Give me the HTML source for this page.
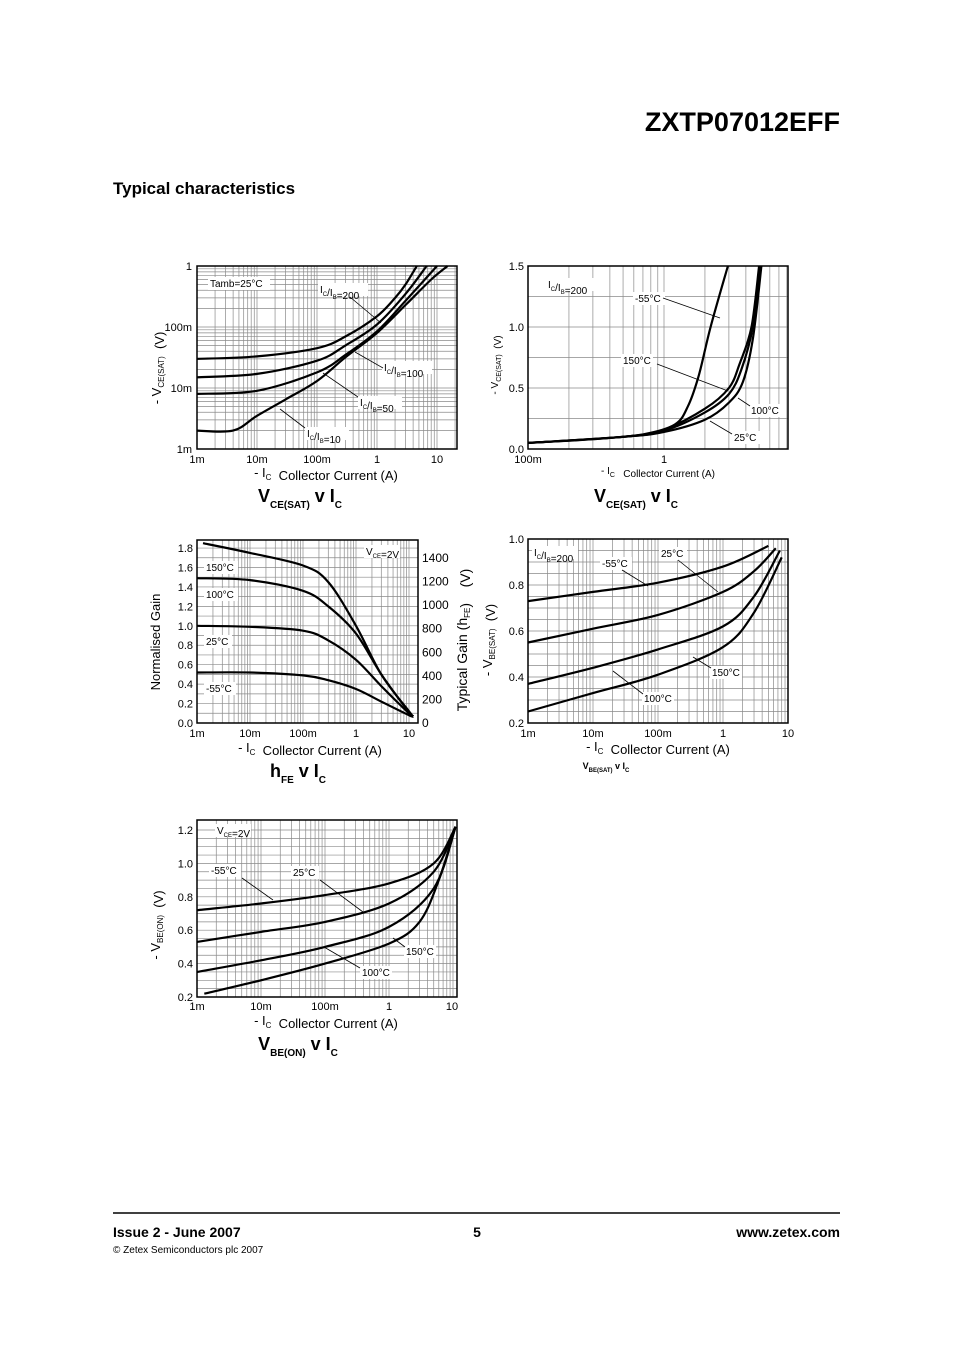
<!DOCTYPE html>
<html><head><meta charset="utf-8"><style>
html,body{margin:0;padding:0;background:#fff}
svg{display:block;font-family:"Liberation Sans",sans-serif}
</style></head><body>
<svg id="pg" width="954" height="1350" viewBox="0 0 954 1350" xmlns="http://www.w3.org/2000/svg">
<text x="840" y="131" text-anchor="end" font-size="27" font-weight="bold">ZXTP07012EFF</text>
<text x="113" y="194" font-size="17" font-weight="bold">Typical characteristics</text>
<line x1="113" y1="1213" x2="840" y2="1213" stroke="#000" stroke-width="1.5"/>
<text x="113" y="1237" font-size="14" font-weight="bold">Issue 2 - June 2007</text>
<text x="477" y="1237" font-size="14" font-weight="bold" text-anchor="middle">5</text>
<text x="840" y="1237" font-size="14" font-weight="bold" text-anchor="end">www.zetex.com</text>
<text x="113" y="1253" font-size="10">© Zetex Semiconductors plc 2007</text>
<g id="charts"></g>
</svg>
<script>
// ---- Chart 1: VCE(SAT) v IC at 25C (log-log) ----
const c1Ratios = ["10","50","100","200"];
const c1Ic = {
 "200":[0.001,0.01,0.1,0.3,1,2,3,4.6],
 "100":[0.001,0.01,0.1,0.3,1,3,6.7],
 "50":[0.001,0.01,0.1,0.3,1,3,10],
 "10":[0.001,0.004,0.01,0.03,0.1,0.3,1,3,8,15]};
const c1V = {
 "200":[0.030,0.033,0.045,0.07,0.15,0.3,0.5,1],
 "100":[0.015,0.017,0.028,0.05,0.11,0.35,1],
 "50":[0.008,0.009,0.018,0.035,0.085,0.27,1],
 "10":[0.002,0.002,0.0035,0.0065,0.013,0.032,0.08,0.23,0.6,1]};
const c1XTicks = ["1m","10m","100m","1","10"];
const c1YTicks = ["1m","10m","100m","1"];
// ---- Chart 2: VCE(SAT) v IC vs temperature ----
const c2Temps = ["-55","25","100","150"];
const c2Ic = {
 "-55":[0.1,0.3,0.7,1.2,1.5,1.8,2.2,2.95],
 "25":[0.1,0.5,1,2,3,3.8,4.5,5.2],
 "100":[0.1,0.5,1,2,3,3.7,4.5,5.1],
 "150":[0.1,0.5,1,2,3,3.6,4.4,5.0]};
const c2V = {
 "-55":[0.05,0.08,0.12,0.2,0.35,0.6,1.0,1.5],
 "25":[0.05,0.1,0.14,0.24,0.38,0.55,0.9,1.5],
 "100":[0.05,0.1,0.15,0.3,0.45,0.65,1.0,1.5],
 "150":[0.05,0.1,0.16,0.33,0.5,0.7,1.0,1.5]};
const c2XTicks = ["100m","1"];
const c2YTicks = [0,0.5,1.0,1.5];
// ---- Chart 3: hFE v IC ----
const c3Ic = {
 "-55":[0.001,0.01,0.1,0.3,1,3,10,12],
 "25":[0.001,0.01,0.1,0.3,1,3,10,12],
 "100":[0.001,0.01,0.1,0.3,1,3,10,12],
 "150":[0.0013,0.01,0.1,0.3,1,3,10,12]};
const c3G = {
 "-55":[0.52,0.52,0.49,0.44,0.35,0.22,0.08,0.07],
 "25":[1.0,0.99,0.95,0.85,0.65,0.38,0.1,0.07],
 "100":[1.49,1.47,1.36,1.2,0.92,0.5,0.11,0.07],
 "150":[1.85,1.75,1.62,1.45,1.0,0.5,0.12,0.07]};
const c3YTicks = [0,0.2,0.4,0.6,0.8,1.0,1.2,1.4,1.6,1.8];
const c3RTicks = [0,200,400,600,800,1000,1200,1400];
// ---- Chart 4: VBE(SAT) v IC ----
const c4Ic = {
 "-55":[0.001,0.01,0.1,1,5],
 "25":[0.001,0.01,0.1,1,3,6.5],
 "100":[0.001,0.01,0.1,1,3,7.5],
 "150":[0.001,0.01,0.1,1,3,8]};
const c4V = {
 "-55":[0.73,0.77,0.81,0.88,0.97],
 "25":[0.55,0.61,0.67,0.77,0.86,0.96],
 "100":[0.37,0.44,0.52,0.62,0.75,0.95],
 "150":[0.25,0.33,0.41,0.53,0.68,0.92]};
const c4YTicks = [0.2,0.4,0.6,0.8,1.0];
// ---- Chart 5: VBE(ON) v IC ----
const c5Ic = {
 "-55":[0.001,0.01,0.1,1,5,11],
 "25":[0.001,0.01,0.1,1,5,11],
 "100":[0.001,0.01,0.1,1,5,11],
 "150":[0.0013,0.01,0.1,1,3,6,11]};
const c5V = {
 "-55":[0.72,0.76,0.81,0.88,1.0,1.22],
 "25":[0.53,0.59,0.65,0.76,0.95,1.22],
 "100":[0.35,0.42,0.5,0.62,0.85,1.22],
 "150":[0.22,0.3,0.4,0.52,0.65,0.9,1.22]};
const c5YTicks = [0.2,0.4,0.6,0.8,1.0,1.2];
const logXTicks = ["1m","10m","100m","1","10"];

const NS="http://www.w3.org/2000/svg";
const root=document.getElementById('charts');
function mk(tag,attrs,parent){const e=document.createElementNS(NS,tag);for(const k in attrs)e.setAttribute(k,attrs[k]);(parent||root).appendChild(e);return e;}
function txt(g,x,y,html,size,anchor,weight){const e=mk('text',{x:x,y:y,'font-size':size||11,'text-anchor':anchor||'start','font-weight':weight||'normal'},g);e.innerHTML=html;return e;}
function sub(s,sz){return '<tspan font-size="'+(sz||7)+'" dy="3">'+s+'</tspan><tspan dy="-3"></tspan>';}
function smooth(pts){let d='M'+pts[0][0].toFixed(1)+','+pts[0][1].toFixed(1);
 for(let i=0;i<pts.length-1;i++){const p0=pts[Math.max(0,i-1)],p1=pts[i],p2=pts[i+1],p3=pts[Math.min(pts.length-1,i+2)];
 const c1x=p1[0]+(p2[0]-p0[0])/6,c1y=p1[1]+(p2[1]-p0[1])/6,c2x=p2[0]-(p3[0]-p1[0])/6,c2y=p2[1]-(p3[1]-p1[1])/6;
 d+=' C'+c1x.toFixed(1)+','+c1y.toFixed(1)+' '+c2x.toFixed(1)+','+c2y.toFixed(1)+' '+p2[0].toFixed(1)+','+p2[1].toFixed(1);}return d;}
function label(g,x,y,html,w,name){const r=mk('rect',{x:x-2,y:y-10,width:w,height:13,fill:'#fff'},g);
 const t=txt(g,x,y,html,10);return t;}
function leader(g,x1,y1,x2,y2){mk('line',{x1:x1,y1:y1,x2:x2,y2:y2,stroke:'#000','stroke-width':0.8},g);}

function chart(o){
 const g=mk('g',{});
 
 
 const grid=mk('g',{stroke:'#8a8a8a','stroke-width':0.7},g);
 
 
 // x log grid
 for(let d=o.xd0;d<=o.xd1;d++)for(let k=1;k<=9;k++){const v=k*Math.pow(10,d);const x=o.X(v);if(x>o.L+0.5&&x<o.R-0.5)mk('line',{x1:x,y1:o.T,x2:x,y2:o.B},grid);}
 // y grid
 o.yGrid.forEach(v=>{const y=o.Y(v);if(y>o.T+0.5&&y<o.B-0.5)mk('line',{x1:o.L,y1:y,x2:o.R,y2:y},grid);});
 const fr=mk('rect',{x:o.L,y:o.T,width:o.R-o.L,height:o.B-o.T,fill:'none',stroke:'#000','stroke-width':1.5},g);
 
 
 // series
 const sg=mk('g',{fill:'none',stroke:'#000','stroke-width':2.2},g);
 for(const key of Object.keys(o.xs)){
  const pts=o.xs[key].map((xv,i)=>[o.X(xv),o.Y(o.ys[key][i])]);
  const p=mk('path',{d:smooth(pts)},sg);
  
  
 }
 return g;
}
const L10=Math.log10;

// Chart 1
(function(){
 const o={name:'vcesat-ratio-chart',L:197,R:457,T:266,B:449,xd0:-3,xd1:1,
  X:v=>197+60*(L10(v)+3),Y:v=>449-61*(L10(v)+3),xs:c1Ic,ys:c1V,yGrid:[]};
 for(let d=-3;d<=0;d++)for(let k=1;k<=9;k++)o.yGrid.push(k*Math.pow(10,d));
 const g=chart(o);
 c1XTicks.forEach((s,i)=>{const t=txt(g,o.X(Math.pow(10,i-3)),463,s,11,'middle');});
 c1YTicks.forEach((s,i)=>{const t=txt(g,192,o.Y(Math.pow(10,i-3))+4,s,11,'end');});
 let t=txt(g,326,477,'- I'+sub('C',8)+'&#160;&#160;Collector Current (A)',13,'middle');
 t=txt(g,0,0,'- V'+sub('CE(SAT)',8)+'&#160;&#160;(V)',13,'middle');t.setAttribute('transform','translate(161,368) rotate(-90)');
 t=txt(g,300,502,'V'+'<tspan font-size="10" dy="6">CE(SAT)</tspan><tspan dy="-6"> v I</tspan><tspan font-size="10" dy="6">C</tspan>',18,'middle','bold');
 label(g,210,287,'Tamb=25°C',62,'c1-tamb-label');
 label(g,320,293,'I'+sub('C',6)+'/I'+sub('B',6)+'=200',50,'c1-label-200');leader(g,350,297,381,323);
 label(g,384,371,'I'+sub('C',6)+'/I'+sub('B',6)+'=100',50,'c1-label-100');leader(g,383,368,355,352);
 label(g,360,406,'I'+sub('C',6)+'/I'+sub('B',6)+'=50',44,'c1-label-50');leader(g,358,397,323,373);
 label(g,307,437,'I'+sub('C',6)+'/I'+sub('B',6)+'=10',44,'c1-label-10');leader(g,305,428,280,409);
})();

// Chart 2
(function(){
 const o={name:'vcesat-temp-chart',L:528,R:788,T:266,B:449,xd0:-1,xd1:0,
  X:v=>528+136*(L10(v)+1),Y:v=>449-v*122,xs:c2Ic,ys:c2V,yGrid:[0.25,0.5,0.75,1,1.25]};
 const g=chart(o);
 c2XTicks.forEach((s,i)=>{const t=txt(g,o.X(Math.pow(10,i-1)),463,s,11,'middle');});
 c2YTicks.forEach(v=>{const t=txt(g,524,o.Y(v)+4,v.toFixed(1),11,'end');});
 let t=txt(g,658,474,'- I'+sub('C',7)+'&#160;&#160; Collector Current (A)',10,'middle');
 t=txt(g,0,0,'- V'+sub('CE(SAT)',7)+'&#160;&#160;(V)',10,'middle');t.setAttribute('transform','translate(498,365) rotate(-90)');
 t=txt(g,636,502,'V'+'<tspan font-size="10" dy="6">CE(SAT)</tspan><tspan dy="-6"> v I</tspan><tspan font-size="10" dy="6">C</tspan>',18,'middle','bold');
 label(g,548,288,'I'+sub('C',6)+'/I'+sub('B',6)+'=200',48,'c2-ratio-label');
 label(g,635,302,'-55°C',32,'c2-label-m55');leader(g,663,298,720,318);
 label(g,623,364,'150°C',32,'c2-label-150');leader(g,657,364,728,391);
 label(g,751,414,'100°C',34,'c2-label-100');leader(g,750,406,738,398);
 label(g,734,441,'25°C',28,'c2-label-25');leader(g,732,434,710,421);
})();

// Chart 3
(function(){
 const o={name:'hfe-chart',L:197,R:418,T:540,B:723,xd0:-3,xd1:1,
  X:v=>197+53*(L10(v)+3),Y:v=>723-v*97.2,xs:c3Ic,ys:c3G,yGrid:[]};
 for(let i=1;i<19;i++)o.yGrid.push(i*0.1);
 const g=chart(o);
 logXTicks.forEach((s,i)=>{const t=txt(g,o.X(Math.pow(10,i-3)),737,s,11,'middle');});
 c3YTicks.forEach(v=>{const t=txt(g,193,o.Y(v)+4,v.toFixed(1),11,'end');});
 c3RTicks.forEach(v=>{const t=txt(g,422,723-v*0.1179+4,String(v),12,'start');});
 let t=txt(g,310,752,'- I'+sub('C',8)+'&#160;&#160;Collector Current (A)',13,'middle');
 t=txt(g,0,0,'Normalised Gain',13,'middle');t.setAttribute('transform','translate(160,642) rotate(-90)');
 t=txt(g,0,0,'Typical Gain (h'+sub('FE',8)+')&#160;&#160;&#160;&#160;(V)',14,'middle');t.setAttribute('transform','translate(467,640) rotate(-90)');
 t=txt(g,298,777,'h'+'<tspan font-size="10" dy="6">FE</tspan><tspan dy="-6"> v I</tspan><tspan font-size="10" dy="6">C</tspan>',18,'middle','bold');
 label(g,366,555,'V'+sub('CE',6)+'=2V',36,'c3-vce-label');
 label(g,206,571,'150°C',34,'c3-label-150');
 label(g,206,598,'100°C',34,'c3-label-100');
 label(g,206,645,'25°C',28,'c3-label-25');
 label(g,206,692,'-55°C',32,'c3-label-m55');
})();

// Chart 4
(function(){
 const o={name:'vbesat-chart',L:528,R:788,T:539,B:723,xd0:-3,xd1:0,
  X:v=>528+65*(L10(v)+3),Y:v=>723-(v-0.2)*230,xs:c4Ic,ys:c4V,yGrid:[]};
 for(let i=1;i<16;i++)o.yGrid.push(0.2+i*0.05);
 const g=chart(o);
 logXTicks.forEach((s,i)=>{const t=txt(g,o.X(Math.pow(10,i-3)),737,s,11,'middle');});
 c4YTicks.forEach(v=>{const t=txt(g,524,o.Y(v)+4,v.toFixed(1),11,'end');});
 let t=txt(g,658,751,'- I'+sub('C',8)+'&#160;&#160;Collector Current (A)',13,'middle');
 t=txt(g,0,0,'- V'+sub('BE(SAT)',8)+'&#160;&#160;(V)',13,'middle');t.setAttribute('transform','translate(492,640) rotate(-90)');
 t=txt(g,606,769,'V'+'<tspan font-size="6" dy="3">BE(SAT)</tspan><tspan dy="-3"> v I</tspan><tspan font-size="6" dy="3">C</tspan>',9,'middle','bold');
 label(g,534,556,'I'+sub('C',6)+'/I'+sub('B',6)+'=200',46,'c4-ratio-label');
 label(g,602,567,'-55°C',32,'c4-label-m55');leader(g,622,570,648,586);
 label(g,661,557,'25°C',28,'c4-label-25');leader(g,678,560,718,592);
 label(g,712,676,'150°C',32,'c4-label-150');leader(g,711,668,693,657);
 label(g,644,702,'100°C',32,'c4-label-100');leader(g,643,694,613,671);
})();

// Chart 5
(function(){
 const o={name:'vbeon-chart',L:197,R:457,T:820,B:997,xd0:-3,xd1:1,
  X:v=>197+64*(L10(v)+3),Y:v=>997-(v-0.2)*167,xs:c5Ic,ys:c5V,yGrid:[]};
 for(let i=1;i<21;i++)o.yGrid.push(0.2+i*0.05);
 const g=chart(o);
 logXTicks.forEach((s,i)=>{const t=txt(g,Math.min(o.X(Math.pow(10,i-3)),452),1010,s,11,'middle');});
 c5YTicks.forEach(v=>{const t=txt(g,193,o.Y(v)+4,v.toFixed(1),11,'end');});
 let t=txt(g,326,1025,'- I'+sub('C',8)+'&#160;&#160;Collector Current (A)',13,'middle');
 t=txt(g,0,0,'- V'+sub('BE(ON)',8)+'&#160;&#160;(V)',13,'middle');t.setAttribute('transform','translate(160,925) rotate(-90)');
 t=txt(g,298,1050,'V'+'<tspan font-size="10" dy="6">BE(ON)</tspan><tspan dy="-6"> v I</tspan><tspan font-size="10" dy="6">C</tspan>',18,'middle','bold');
 label(g,217,834,'V'+sub('CE',6)+'=2V',36,'c5-vce-label');
 label(g,211,874,'-55°C',32,'c5-label-m55');leader(g,242,878,273,900);
 label(g,293,876,'25°C',28,'c5-label-25');leader(g,320,880,363,912);
 label(g,406,955,'150°C',32,'c5-label-150');leader(g,405,947,393,938);
 label(g,362,976,'100°C',32,'c5-label-100');leader(g,360,968,324,947);
})();
</script>
</body></html>
